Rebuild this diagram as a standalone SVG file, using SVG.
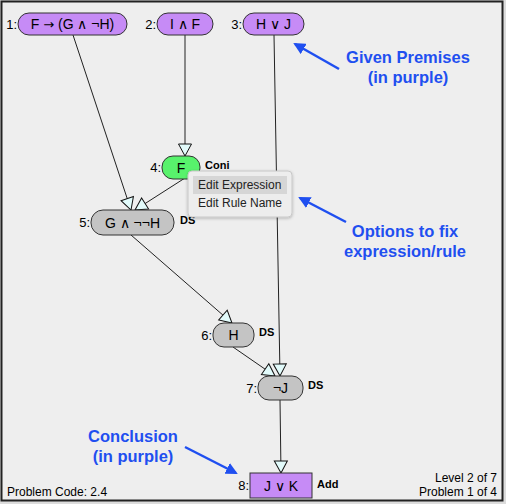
<svg xmlns="http://www.w3.org/2000/svg" width="506" height="504" viewBox="0 0 506 504">
<defs>
<style>
.node{stroke:#333;stroke-width:1}
.prem{fill:#c68bf6}
.der{fill:#c4c4c4}
.new{fill:#58f26c}
.t{font-family:"Liberation Sans",Arial,sans-serif;font-size:14px;fill:#000;text-anchor:middle}
.num{font-family:"Liberation Sans",Arial,sans-serif;font-size:13px;fill:#000;text-anchor:end}
.rule{font-family:"Liberation Sans",Arial,sans-serif;font-size:11px;font-weight:bold;fill:#000}
.edge{stroke:#222;stroke-width:1;fill:none;marker-end:url(#ah)}
.note{font-family:"Liberation Sans",Arial,sans-serif;font-size:16.5px;font-weight:bold;fill:#1f4ff0;text-anchor:middle}
.narrow{stroke:#1f4ff0;stroke-width:2.5;fill:none;marker-end:url(#bh)}
.menu{font-family:"Liberation Sans",Arial,sans-serif;font-size:12px;fill:#222}
.foot{font-family:"Liberation Sans",Arial,sans-serif;font-size:12px;fill:#000}
</style>
<marker id="ah" viewBox="-1 -1 14 15" refX="12" refY="6.5" markerWidth="14" markerHeight="15" markerUnits="userSpaceOnUse" orient="auto" overflow="visible">
<path d="M0,0 L12,6.5 L0,13 Z" fill="#e2fbfb" stroke="#111" stroke-width="1"/>
</marker>
<marker id="bh" viewBox="0 0 12 12" refX="10" refY="6" markerWidth="12" markerHeight="12" markerUnits="userSpaceOnUse" orient="auto">
<path d="M0,0 L12,6 L0,12 Z" fill="#1f4ff0"/>
</marker>
<filter id="sh" x="-20%" y="-20%" width="140%" height="150%">
<feDropShadow dx="0" dy="1" stdDeviation="1.5" flood-color="#000" flood-opacity="0.25"/>
</filter>
</defs>
<rect x="0" y="0" width="506" height="504" fill="#dcdcdc"/>
<rect x="1.5" y="1.5" width="501" height="499" fill="#eeeeee" stroke="#222" stroke-width="2"/>

<g id="connectors">
<line class="edge" x1="73" y1="35" x2="131" y2="210"/>
<line class="edge" x1="185" y1="35" x2="185" y2="156"/>
<line class="edge" x1="185" y1="178" x2="135" y2="210"/>
<line class="edge" x1="274" y1="35" x2="280" y2="376"/>
<line class="edge" x1="131" y1="235" x2="232" y2="323"/>
<line class="edge" x1="233" y1="347" x2="275" y2="376"/>
<line class="edge" x1="280" y1="400" x2="281" y2="473"/>
</g>

<g id="n1">
<text class="num" x="17" y="29">1:</text>
<rect class="node prem" x="18" y="13" width="109" height="22" rx="11"/>
<text class="t" x="72.5" y="29">F <tspan font-family="DejaVu Sans,sans-serif" font-size="13">→</tspan> (G ∧ ¬H)</text>
</g>
<g id="n2">
<text class="num" x="156" y="29">2:</text>
<rect class="node prem" x="157" y="13" width="56" height="22" rx="11"/>
<text class="t" x="185" y="29">I ∧ F</text>
</g>
<g id="n3">
<text class="num" x="242" y="29">3:</text>
<rect class="node prem" x="243" y="13" width="61" height="22" rx="11"/>
<text class="t" x="273.5" y="29">H ∨ J</text>
</g>
<g id="n4">
<text class="num" x="161" y="172">4:</text>
<rect class="node new" x="162" y="156" width="38" height="23" rx="11"/>
<text class="t" x="181" y="173">F</text>
<text class="rule" x="205" y="169">Coni</text>
</g>
<g id="n5">
<text class="num" x="90" y="227">5:</text>
<rect class="node der" x="91" y="210" width="83" height="25" rx="12"/>
<text class="t" x="132.5" y="228">G ∧ ¬¬H</text>
<text class="rule" x="180" y="224">DS</text>
</g>
<g id="n6">
<text class="num" x="212" y="340">6:</text>
<rect class="node der" x="213" y="323" width="41" height="24" rx="11"/>
<text class="t" x="233.5" y="340">H</text>
<text class="rule" x="259" y="336">DS</text>
</g>
<g id="n7">
<text class="num" x="257" y="393">7:</text>
<rect class="node der" x="258" y="376" width="45" height="24" rx="11"/>
<text class="t" x="280.5" y="393">¬J</text>
<text class="rule" x="308" y="389">DS</text>
</g>
<g id="n8">
<text class="num" x="249" y="490">8:</text>
<rect class="node prem" x="250" y="473" width="62" height="25"/>
<text class="t" x="281" y="491">J ∨ K</text>
<text class="rule" x="317" y="488">Add</text>
</g>

<g id="menu">
<rect x="188" y="171" width="104" height="46" rx="4" fill="#ededed" stroke="#c8c8c8" stroke-width="1" filter="url(#sh)"/>
<rect x="193" y="176" width="94" height="18" fill="#d6d6d6"/>
<text class="menu" x="198" y="189">Edit Expression</text>
<text class="menu" x="198" y="207">Edit Rule Name</text>
</g>

<g id="annotations">
<text class="note" x="408" y="63">Given Premises</text>
<text class="note" x="408" y="83">(in purple)</text>
<line class="narrow" x1="339" y1="69" x2="295" y2="44"/>
<text class="note" x="405" y="237">Options to fix</text>
<text class="note" x="405" y="257">expression/rule</text>
<line class="narrow" x1="346" y1="222" x2="300" y2="198"/>
<text class="note" x="133" y="442">Conclusion</text>
<text class="note" x="133" y="462">(in purple)</text>
<line class="narrow" x1="185" y1="447" x2="236" y2="473"/>
</g>

<g id="footer">
<text class="foot" x="7" y="496">Problem Code: 2.4</text>
<text class="foot" x="497" y="482" text-anchor="end">Level 2 of 7</text>
<text class="foot" x="497" y="496" text-anchor="end">Problem 1 of 4</text>
</g>
</svg>
